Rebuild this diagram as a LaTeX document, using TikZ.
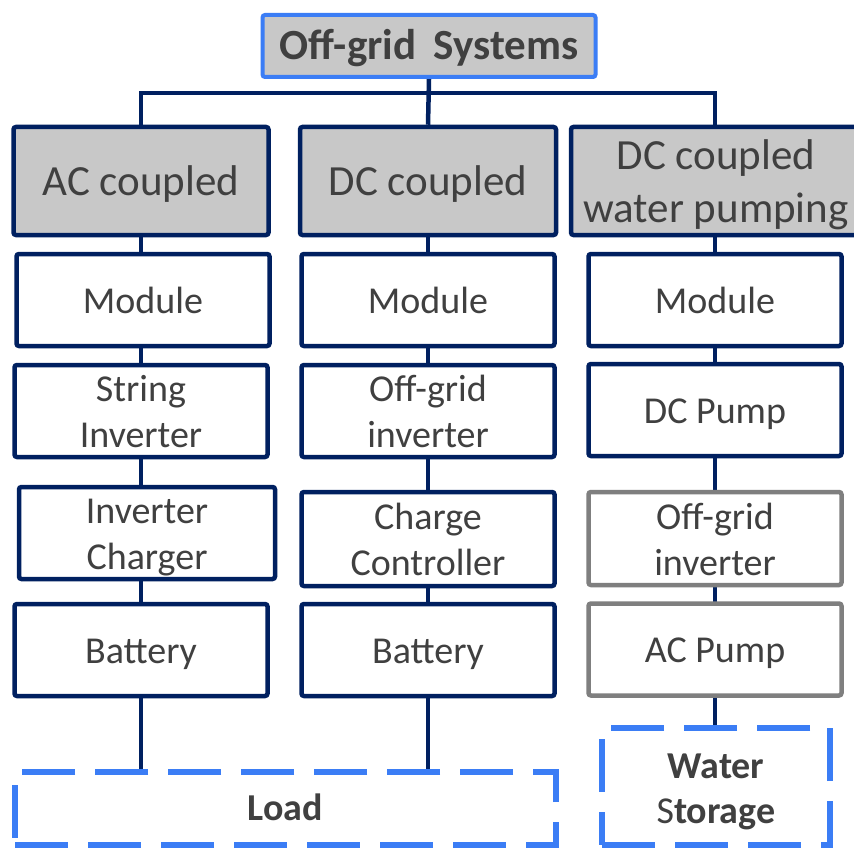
\documentclass[tikz,border=0pt]{standalone}
\usepackage{fontspec}
\setmainfont{Carlito}
\usetikzlibrary{backgrounds}
\definecolor{navy}{HTML}{002060}
\definecolor{bblue}{HTML}{3B7DF5}
\definecolor{gfill}{HTML}{C8C8C8}
\definecolor{gline}{HTML}{7F7F7F}
\definecolor{txt}{HTML}{404040}
\newcommand\dn[2]{\raisebox{-#1}[\height][\depth]{\begin{tabular}{@{}c@{}}#2\end{tabular}}}
\tikzset{
  box/.style={draw=navy, line width=4.5pt, fill=white, rounded corners=2.5pt,
    text=txt, align=center, inner sep=0pt, minimum width=253pt, minimum height=92pt,
    font=\fontsize{38}{46}\selectfont},
  headbox/.style={box, fill=gfill, minimum height=108pt, font=\fontsize{43}{53}\selectfont},
  graybox/.style={box, draw=gline},
  titlebox/.style={draw=bblue, line width=4pt, fill=gfill, rounded corners=2.5pt, text=txt,
    inner sep=0pt, minimum width=333pt, minimum height=62pt,
    font=\bfseries\fontsize{43}{50}\selectfont},
  dbox/.style={draw=bblue, line width=6pt, dash pattern=on 53pt off 20pt, fill=white,
    text=txt, align=center, inner sep=0pt, font=\bfseries\fontsize{38}{45}\selectfont},
  link/.style={draw=navy, line width=4.5pt}
}
\begin{document}
\begin{tikzpicture}[x=1pt,y=-1pt]
\useasboundingbox (0,0) rectangle (854,848);

\node[titlebox] (top) at (429,46) {\dn{4pt}{Off-grid\hspace{0.4em}Systems}};

\node[headbox, minimum width=255pt] (h1) at (141,181) {\dn{3.5pt}{AC coupled}};
\node[headbox, minimum width=256pt] (h2) at (428,181) {\dn{3.5pt}{DC coupled}};
\node[headbox, minimum width=290pt] (h3) at (716,181) {\dn{4.5pt}{DC coupled\\water pumping}};

\node[box] (m1) at (143,300) {\dn{4pt}{Module}};
\node[box] (m2) at (428,300) {\dn{4pt}{Module}};
\node[box] (m3) at (715,300) {\dn{4pt}{Module}};

\node[box] (s1) at (141,411) {\dn{4.5pt}{String\\Inverter}};
\node[box] (s2) at (428,411) {\dn{4.5pt}{Off-grid\\inverter}};
\node[box] (s3) at (715,410) {\dn{4pt}{DC Pump}};

\node[box, minimum width=256pt] (c1) at (147,533) {\dn{4.5pt}{Inverter\\Charger}};
\node[box, minimum height=94pt] (c2) at (428,539) {\dn{4.5pt}{Charge\\Controller}};
\node[graybox, minimum height=93pt] (c3) at (715,538.5) {\dn{4.5pt}{Off-grid\\inverter}};

\node[box] (b1) at (141,650) {\dn{4pt}{Battery}};
\node[box] (b2) at (428,650) {\dn{4pt}{Battery}};
\node[graybox] (b3) at (715,649.5) {\dn{4pt}{AC Pump}};

\node[dbox, minimum width=541pt, minimum height=73pt] (load) at (285.5,808.5) {\dn{2.5pt}{Load}};
\node[dbox, minimum width=228pt, minimum height=117pt] (ws) at (716,786.5) {\dn{5pt}{Water\\{\mdseries S}torage}};

\coordinate (busL) at (141,93);
\coordinate (busR) at (715,93);

\begin{scope}[on background layer]
\fill[white] (0,0) rectangle (854,848);
\draw[link] (top.south) -- (h2.north);
\draw[link] (h1.north) -- (busL) -- (busR) -- (busR |- h3.north);
\draw[link] (busL |- h1.south) -- (busL |- load.north);
\draw[link] (h2.south) -- (h2.south |- load.north);
\draw[link] (busR |- h3.south) -- (busR |- ws.north);
\end{scope}
\end{tikzpicture}
\end{document}
